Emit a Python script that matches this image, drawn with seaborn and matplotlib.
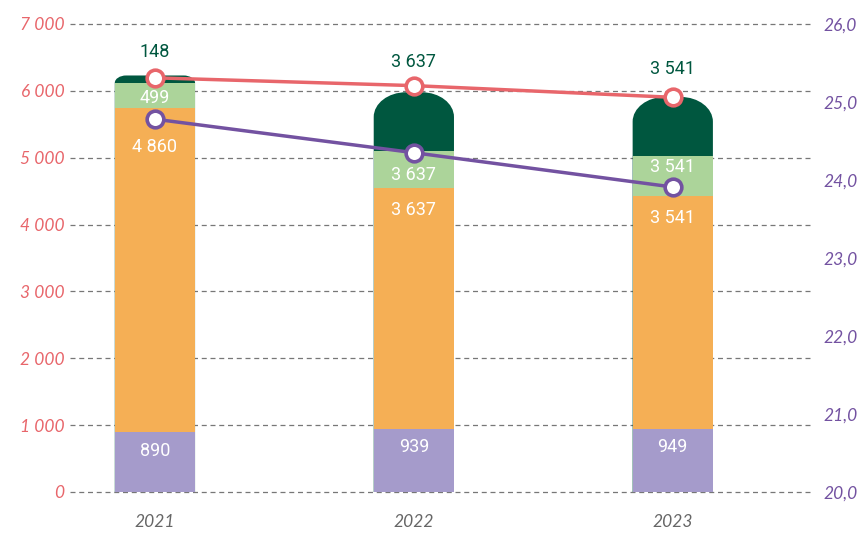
import numpy as np
import matplotlib
matplotlib.use("Agg")
import matplotlib.pyplot as plt
import seaborn as sns
from matplotlib.path import Path
from matplotlib.patches import PathPatch
from matplotlib.ticker import FuncFormatter

# -------------------------------
# Datos
# -------------------------------
anios = ["2021", "2022", "2023"]
violeta = [890, 939, 949]
naranja = [4850, 3610, 3480]
verde_claro = [380, 550, 600]
verde_oscuro = [110, 880, 880]

etq_violeta = ["890", "939", "949"]
etq_naranja = ["4 860", "3 637", "3 541"]
etq_verde = ["499", "3 637", "3 541"]
etq_total = ["148", "3 637", "3 541"]

linea_roja = [25.31, 25.21, 25.06]
linea_violeta = [24.78, 24.35, 23.91]

# colores
c_violeta = "#a59bcb"
c_naranja = "#f5af55"
c_verde = "#acd49a"
c_oscuro = "#00573f"
c_rojo = "#e8666b"
c_morado = "#7352a1"

sns.set_theme(style="white")
plt.rcParams["font.family"] = ["Lato", "DejaVu Sans"]

fig = plt.figure(figsize=(8.59, 5.34), dpi=100)
ax = fig.add_axes([70 / 859, 1 - 492 / 534, 740 / 859, 468 / 534])

# barras apiladas: totales acumulados, de la mas alta a la mas baja
v = np.array(violeta)
n = v + np.array(naranja)
g = n + np.array(verde_claro)
t = g + np.array(verde_oscuro)
ancho = 0.31
capas = [(t, c_oscuro), (g, c_verde), (n, c_naranja), (v, c_violeta)]
for alturas, col in capas:
    sns.barplot(x=anios, y=alturas, color=col, saturation=1, width=ancho,
                linewidth=0, ax=ax, zorder=2)

# parte superior redondeada del segmento verde oscuro
k = 0.5523
for i, p in enumerate(ax.patches[:3]):
    x0 = p.get_x()
    x1 = x0 + p.get_width()
    y1 = t[i]
    h = verde_oscuro[i]
    ry = min(370, h)
    rx = p.get_width() * 0.37 * min(1, h / 370) + 0.01
    verts = [(x0, 0), (x0, y1 - ry),
             (x0, y1 - ry + k * ry), (x0 + rx - k * rx, y1), (x0 + rx, y1),
             (x1 - rx, y1),
             (x1 - rx + k * rx, y1), (x1, y1 - ry + k * ry), (x1, y1 - ry),
             (x1, 0), (x0, 0)]
    codes = [Path.MOVETO, Path.LINETO,
             Path.CURVE4, Path.CURVE4, Path.CURVE4,
             Path.LINETO,
             Path.CURVE4, Path.CURVE4, Path.CURVE4,
             Path.LINETO, Path.CLOSEPOLY]
    p.set_visible(False)
    ax.add_patch(PathPatch(Path(verts, codes), facecolor=c_oscuro,
                           edgecolor="none", zorder=1.5))

# etiquetas (desplazamientos en puntos)
desp_total = [17, 22, 20]
desp_verde = [-1.5, -4, 6.5]
desp_naranja = [-28, -16, -16]
for i in range(3):
    ax.annotate(etq_total[i], (i, t[i]), xytext=(0, desp_total[i]), textcoords="offset points",
                ha="center", va="center", color=c_oscuro, fontsize=13,
                family="Roboto", zorder=5)
    ax.annotate(etq_verde[i], (i, (n[i] + g[i]) / 2), xytext=(0, desp_verde[i]),
                textcoords="offset points", ha="center", va="center",
                color="white", fontsize=13, family="Roboto", zorder=5)
    ax.annotate(etq_naranja[i], (i, n[i]), xytext=(0, desp_naranja[i]),
                textcoords="offset points", ha="center", va="center",
                color="white", fontsize=13, family="Roboto", zorder=5)
    ax.annotate(etq_violeta[i], (i, v[i]), xytext=(0, -13),
                textcoords="offset points", ha="center", va="center",
                color="white", fontsize=13, family="Roboto", zorder=5)

ax.set_ylim(0, 7000)
ax.set_xlim(-0.328, 2.53)
ax.set_yticks(range(0, 7001, 1000))
ax.yaxis.set_major_formatter(FuncFormatter(lambda x, _: f"{int(x):,}".replace(",", " ")))
ax.grid(axis="y", color="#777777", linestyle=(0, (4, 3)), linewidth=0.9, zorder=0)
for gl in ax.get_ygridlines():
    gl.set_clip_on(False)
ax.set_axisbelow(True)
ax.tick_params(axis="y", length=0, pad=4, labelsize=12.5, labelcolor=c_rojo)
ax.tick_params(axis="x", length=0, pad=16, labelsize=12.5, labelcolor="#666666")
for lb in ax.get_yticklabels() + ax.get_xticklabels():
    lb.set_fontstyle("italic")
ax.set_xlabel("")
ax.set_ylabel("")
sns.despine(ax=ax, left=True, bottom=True)

# eje derecho con las dos lineas
ax2 = ax.twinx()
x_pos = np.arange(3)
for datos, col in [(linea_roja, c_rojo), (linea_violeta, c_morado)]:
    sns.lineplot(x=x_pos, y=datos, color=col, linewidth=2.5, marker="o",
                 markersize=12, markerfacecolor="white", markeredgecolor=col,
                 markeredgewidth=2.6, ax=ax2, zorder=4)
ax2.set_ylim(20, 26)
ax2.set_yticks(np.arange(20, 26.1, 1))
ax2.yaxis.set_major_formatter(FuncFormatter(lambda x, _: f"{x:.1f}".replace(".", ",")))
ax2.tick_params(axis="y", length=0, pad=10, labelsize=12.5, labelcolor=c_morado)
for lb in ax2.get_yticklabels():
    lb.set_fontstyle("italic")
ax2.grid(False)
ax2.set_ylabel("")
for s in ax2.spines.values():
    s.set_visible(False)

fig.savefig("out.png", dpi=100)
